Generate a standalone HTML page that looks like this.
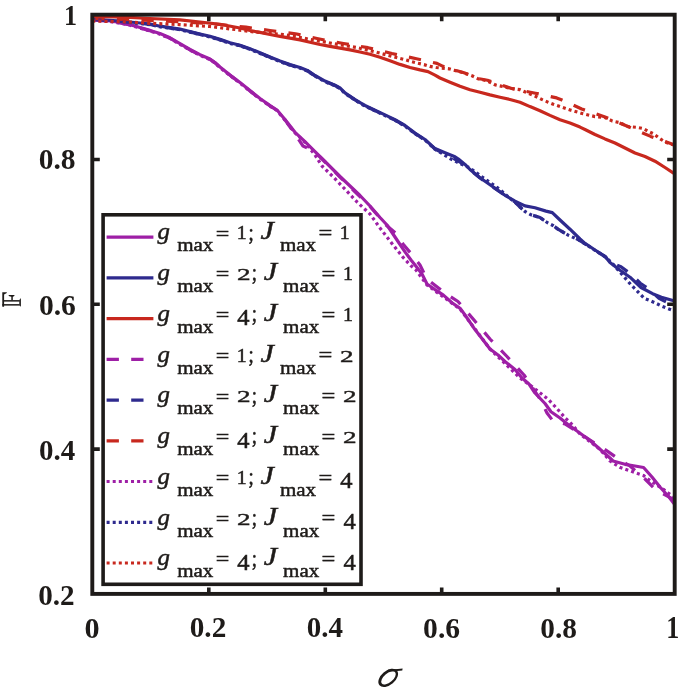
<!DOCTYPE html><html><head><meta charset="utf-8"><style>html,body{margin:0;padding:0;background:#fff}svg{display:block}</style></head><body><svg width="685" height="692" viewBox="0 0 685 692" style="will-change:transform;filter:blur(0.45px)">
<rect width="685" height="692" fill="#fff"/>
<path d="M92.3,19.5 L110.0,21.0 L120.0,22.5 L130.0,24.6 L140.0,27.5 L150.0,30.4 L160.0,33.6 L170.0,37.8 L180.0,43.7 L190.0,49.5 L200.0,54.7 L210.0,59.0 L215.0,62.5 L220.0,67.0 L230.0,74.9 L240.0,82.5 L250.0,90.5 L260.0,98.5 L270.0,105.5 L277.0,110.0 L285.0,119.5 L295.0,132.3 L305.0,141.7 L315.0,151.6 L325.0,161.5 L340.0,176.5 L360.0,195.5 L370.0,206.0 L380.0,217.5 L387.0,225.0 L393.0,234.0 L399.0,243.0 L405.0,251.9 L411.0,260.0 L417.0,267.5 L422.0,274.0 L427.0,284.0 L434.6,289.3 L443.4,295.1 L452.0,302.7 L460.4,308.6 L465.0,315.0 L475.0,329.6 L485.0,342.4 L490.0,349.0 L498.0,355.0 L505.0,361.4 L515.0,369.5 L522.0,378.0 L529.0,384.0 L535.0,393.0 L545.0,403.5 L551.0,411.7 L560.0,418.0 L568.0,424.5 L577.0,431.0 L590.0,440.5 L600.0,449.3 L610.0,458.0 L613.0,461.0 L625.0,464.3 L635.0,466.0 L643.6,467.5 L652.0,477.0 L660.0,487.0 L669.0,497.0 L674.7,504.5" fill="none" stroke="#9e1fa6" stroke-width="3.20" stroke-linejoin="round"/>
<path d="M92.3,19.0 L120.0,21.0 L150.0,24.0 L160.0,26.2 L180.0,29.1 L200.0,34.0 L210.0,36.4 L220.0,39.3 L230.0,42.8 L240.0,45.2 L250.0,48.7 L260.0,52.8 L270.0,56.9 L280.0,61.0 L290.0,64.6 L300.0,67.5 L307.4,70.4 L315.0,75.5 L325.0,81.1 L335.0,85.2 L340.0,88.0 L345.0,92.8 L355.0,99.5 L361.0,103.2 L365.0,105.5 L375.0,110.2 L385.0,114.9 L395.0,119.7 L405.0,125.5 L415.0,133.1 L425.0,139.5 L435.0,148.6 L445.0,152.7 L455.0,156.8 L458.4,159.1 L465.0,164.4 L470.0,169.5 L480.0,177.7 L490.0,184.7 L500.0,191.7 L505.0,195.3 L515.0,201.2 L525.0,205.9 L535.0,207.8 L546.0,211.1 L552.3,212.6 L560.0,220.0 L570.0,229.2 L580.0,239.0 L585.0,243.4 L595.0,250.0 L605.0,256.3 L610.0,262.6 L620.0,270.2 L630.0,277.2 L641.0,287.5 L652.6,293.7 L661.4,297.2 L674.7,301.0" fill="none" stroke="#2e2a8e" stroke-width="3.20" stroke-linejoin="round"/>
<path d="M92.3,16.3 L125.0,17.2 L150.0,18.5 L180.0,19.8 L200.0,22.0 L220.0,24.3 L240.0,28.0 L250.0,30.5 L260.0,32.4 L270.0,34.5 L280.0,36.4 L290.0,38.1 L300.0,39.9 L310.0,42.2 L320.0,44.5 L330.0,46.4 L340.0,48.1 L350.0,49.9 L360.0,52.0 L370.0,54.3 L380.0,57.2 L390.0,60.7 L400.0,64.4 L410.0,67.5 L420.0,69.9 L428.0,71.6 L435.0,75.1 L440.0,78.0 L450.0,82.2 L460.0,86.3 L470.0,89.8 L480.0,92.3 L490.0,94.9 L500.0,97.2 L510.0,99.5 L520.0,102.2 L530.0,106.6 L540.0,110.7 L550.0,115.4 L560.0,119.8 L570.0,123.0 L580.0,127.1 L586.0,130.0 L595.0,134.5 L605.0,138.9 L615.0,143.0 L635.0,153.0 L645.0,156.5 L655.0,161.2 L665.0,167.5 L674.7,173.8" fill="none" stroke="#c8281e" stroke-width="3.20" stroke-linejoin="round"/>
<path d="M92.3,19.9 L110.0,21.4 L120.0,22.9 L130.0,25.0 L140.0,27.9 L150.0,30.8 L160.0,34.0 L170.0,38.2 L180.0,44.1 L190.0,49.9 L200.0,55.1 L210.0,59.4 L215.0,62.9 L220.0,67.4 L230.0,75.3 L240.0,82.9 L250.0,90.9 L260.0,98.9 L270.0,105.9 L277.0,110.4 L285.0,119.9 L295.0,134.0 L303.0,146.0 L310.0,149.0 L320.0,157.0 L340.0,177.0 L370.0,206.5 L386.0,225.0 L396.0,233.5 L403.0,244.0 L411.0,253.5 L420.0,265.0 L427.0,279.0 L445.0,293.0 L458.0,301.5 L474.0,320.0 L490.0,339.0 L507.0,356.5 L524.0,375.0 L540.0,399.0 L547.0,413.0 L553.0,421.0 L565.0,424.0 L590.0,440.0 L608.0,451.6 L618.0,458.6 L630.0,466.0 L645.0,479.0 L656.0,490.0 L674.7,500.0" fill="none" stroke="#9e1fa6" stroke-width="3.20" stroke-linejoin="round" stroke-dasharray="12.3 12.3"/>
<path d="M92.3,19.4 L120.0,21.4 L150.0,24.4 L160.0,26.6 L180.0,29.5 L200.0,34.4 L210.0,36.8 L220.0,39.7 L230.0,43.2 L240.0,45.6 L250.0,49.1 L260.0,53.2 L270.0,57.3 L280.0,61.4 L290.0,65.0 L300.0,67.9 L307.4,70.8 L315.0,75.9 L325.0,81.5 L335.0,85.6 L340.0,88.4 L345.0,93.2 L355.0,99.9 L361.0,103.6 L365.0,105.9 L375.0,110.6 L385.0,115.3 L395.0,120.1 L405.0,125.9 L415.0,133.5 L425.0,139.9 L435.0,149.0 L450.0,156.5 L460.0,162.0 L470.0,170.0 L480.0,178.0 L490.0,185.0 L500.0,192.0 L510.0,198.5 L515.0,202.0 L520.0,207.0 L525.0,211.5 L531.0,214.8 L540.0,217.5 L547.6,222.8 L553.4,225.7 L558.0,229.2 L569.0,235.6 L578.0,239.5 L585.0,243.8 L595.0,250.3 L605.0,256.6 L612.0,263.0 L621.0,266.7 L631.0,274.3 L640.3,283.2 L649.7,289.6 L659.0,298.4 L669.5,303.6 L674.7,305.0" fill="none" stroke="#2e2a8e" stroke-width="3.20" stroke-linejoin="round" stroke-dasharray="12.3 12.3"/>
<path d="M92.3,18.5 L125.0,19.5 L150.0,20.5 L185.0,22.0 L215.0,24.0 L246.0,27.2 L270.0,30.5 L295.5,33.8 L317.0,38.5 L322.0,39.5 L343.5,43.5 L368.0,47.7 L392.0,53.5 L416.5,58.8 L437.0,63.4 L443.0,66.4 L464.0,72.8 L478.0,78.5 L487.5,80.3 L511.5,88.5 L535.5,93.2 L556.7,97.9 L562.0,100.0 L581.7,109.0 L605.0,117.0 L628.0,126.6 L650.7,136.4 L674.7,145.0" fill="none" stroke="#c8281e" stroke-width="3.20" stroke-linejoin="round" stroke-dasharray="12.3 12.3"/>
<path d="M92.3,20.1 L110.0,21.6 L120.0,23.1 L130.0,25.2 L140.0,28.1 L150.0,31.0 L160.0,34.2 L170.0,38.4 L180.0,44.3 L190.0,50.1 L200.0,55.3 L210.0,59.6 L215.0,63.1 L220.0,67.6 L230.0,75.5 L240.0,83.1 L250.0,91.1 L260.0,99.1 L270.0,106.1 L277.0,110.6 L285.0,120.1 L295.0,132.9 L305.0,142.3 L315.0,155.0 L322.0,166.0 L334.0,177.7 L347.0,191.3 L357.5,202.4 L370.0,214.0 L380.0,228.0 L391.5,242.9 L402.9,257.2 L411.0,265.8 L416.0,270.0 L427.0,285.0 L460.0,309.0 L490.0,349.0 L520.0,378.0 L529.0,384.3 L539.0,392.0 L548.4,399.5 L557.0,408.6 L565.0,417.8 L570.0,422.2 L580.0,434.0 L600.0,449.3 L610.0,461.0 L619.7,467.2 L631.4,471.3 L643.3,475.4 L651.0,481.2 L663.4,489.3 L668.6,493.4 L674.7,497.5" fill="none" stroke="#9e1fa6" stroke-width="3.20" stroke-linejoin="round" stroke-dasharray="3 3.1"/>
<path d="M92.3,19.6 L120.0,21.6 L150.0,24.6 L160.0,26.8 L180.0,29.7 L200.0,34.6 L210.0,37.0 L220.0,39.9 L230.0,43.4 L240.0,45.8 L250.0,49.3 L260.0,53.4 L270.0,57.5 L280.0,61.6 L290.0,65.2 L300.0,68.1 L307.4,71.0 L315.0,76.1 L325.0,81.7 L335.0,85.8 L340.0,88.6 L345.0,93.4 L355.0,100.1 L361.0,103.8 L365.0,106.1 L375.0,110.8 L385.0,115.5 L395.0,120.3 L405.0,126.1 L415.0,133.7 L425.0,140.1 L435.0,149.2 L450.0,158.5 L460.0,163.5 L470.0,168.0 L480.0,175.5 L490.0,182.5 L500.0,189.5 L510.0,198.5 L515.0,202.0 L520.0,207.0 L525.0,211.5 L531.0,214.8 L540.0,217.5 L547.6,222.8 L553.4,225.7 L558.0,229.2 L569.0,235.6 L578.0,239.5 L585.0,243.8 L595.0,250.3 L605.0,256.6 L612.0,263.0 L622.8,275.4 L627.0,280.1 L631.0,284.8 L635.7,289.5 L640.0,294.0 L644.4,298.4 L650.3,300.7 L655.5,303.0 L661.4,306.0 L667.2,308.3 L674.7,311.0" fill="none" stroke="#2e2a8e" stroke-width="3.20" stroke-linejoin="round" stroke-dasharray="3 3.1"/>
<path d="M92.3,21.0 L125.0,21.8 L150.0,23.3 L180.0,24.6 L210.0,26.5 L235.0,29.5 L255.0,32.0 L284.0,34.6 L303.4,38.1 L309.2,39.3 L327.0,42.3 L333.4,43.7 L351.5,46.6 L358.0,47.8 L376.4,52.2 L381.9,53.7 L398.5,58.1 L405.8,59.9 L411.7,61.7 L417.5,63.1 L424.0,64.6 L429.8,66.4 L436.2,67.5 L449.0,68.8 L454.0,70.2 L464.0,72.8 L472.0,75.8 L478.0,78.7 L487.5,81.0 L495.2,84.9 L501.0,86.1 L511.5,88.5 L520.0,89.7 L525.3,92.0 L536.4,96.7 L542.2,99.6 L547.4,101.9 L553.3,104.3 L558.5,106.0 L571.0,110.2 L583.0,113.7 L595.0,116.6 L605.0,117.5 L612.5,121.1 L619.0,122.5 L628.0,126.6 L636.8,127.3 L643.2,128.5 L648.4,131.4 L654.3,134.3 L659.5,138.4 L664.2,141.4 L669.5,143.7 L674.7,145.3" fill="none" stroke="#c8281e" stroke-width="3.20" stroke-linejoin="round" stroke-dasharray="3 3.1"/>
<rect x="92.3" y="14.7" width="582.4" height="579.2" fill="none" stroke="#1e1b19" stroke-width="3.9"/>
<path d="M92.3,449.1H99.8M674.7,449.1H667.2M92.3,304.3H99.8M674.7,304.3H667.2M92.3,159.5H99.8M674.7,159.5H667.2M208.8,593.9V587.4M208.8,14.7V21.2M325.3,593.9V587.4M325.3,14.7V21.2M441.7,593.9V587.4M441.7,14.7V21.2M558.2,593.9V587.4M558.2,14.7V21.2" stroke="#1e1b19" stroke-width="3.6" fill="none"/>
<g font-family="Liberation Serif" fill="#1e1b19"><text transform="matrix(0.26075 0 0 0.29236 63.96 25.05)" font-size="100" font-weight="bold">1</text><text transform="matrix(0.29524 0 0 0.29594 38.63 169.43)" font-size="100" font-weight="bold">0.8</text><text transform="matrix(0.29595 0 0 0.29594 38.92 315.23)" font-size="100" font-weight="bold">0.6</text><text transform="matrix(0.28994 0 0 0.29594 38.95 460.23)" font-size="100" font-weight="bold">0.4</text><text transform="matrix(0.29172 0 0 0.28858 38.14 605.44)" font-size="100" font-weight="bold">0.2</text><text transform="matrix(0.30201 0 0 0.29935 84.50 638.16)" font-size="100" font-weight="bold">0</text><text transform="matrix(0.29257 0 0 0.29299 189.74 637.44)" font-size="100" font-weight="bold">0.2</text><text transform="matrix(0.28994 0 0 0.29005 306.75 637.44)" font-size="100" font-weight="bold">0.4</text><text transform="matrix(0.29595 0 0 0.29594 423.12 637.83)" font-size="100" font-weight="bold">0.6</text><text transform="matrix(0.29354 0 0 0.29594 540.23 637.83)" font-size="100" font-weight="bold">0.8</text><text transform="matrix(0.26075 0 0 0.30599 666.16 638.45)" font-size="100" font-weight="bold">1</text></g>
<g transform="translate(388.2 677.9) rotate(-40)"><path fill-rule="evenodd" fill="#1e1b19" d="M-11.4,0 A11.4,7.1 0 1,0 11.4,0 A11.4,7.1 0 1,0 -11.4,0 Z M-8.5,0.2 A8.7,4.5 0 1,0 8.9,0.2 A8.7,4.5 0 1,0 -8.5,0.2 Z"/></g><path d="M388,669.6 L398,669.0 L402.6,668.4 L402.3,670.4 L397,670.9 L389,671.6 Z" fill="#1e1b19"/>
<g fill="#1e1b19">
<path d="M2.3,292.2H6.8V293L4.1,294.4V306.8H2.3Z"/>
<rect x="4" y="300.1" width="15.7" height="1.5"/>
<rect x="2.3" y="304.1" width="17.4" height="1.5"/>
<path d="M19.3,300L20.9,298.1V306.8L19.3,305.3Z"/>
<rect x="11.3" y="295.8" width="1.5" height="4.5"/>
<path d="M8.3,295H14.7Q14.2,296.6 12.8,296.8H11.3Q8.8,296.6 8.3,295Z"/>
</g>
<rect x="103.1" y="214.8" width="257.9" height="369.5" fill="#fff" stroke="#1e1b19" stroke-width="3.6"/>
<path d="M106.6,237.1H153.4" stroke="#9e1fa6" stroke-width="3.20"/>
<g font-family="Liberation Serif" fill="#1e1b19" stroke="#1e1b19"><text transform="matrix(0.24882 0 0 0.23845 157.49 239.42)" font-size="100" font-style="italic" stroke-width="2.05">g</text><text transform="matrix(0.21025 0 0 0.19129 177.16 251.41)" font-size="100" stroke-width="2.49">max</text><text transform="matrix(0.24069 0 0 0.19600 215.70 239.56)" font-size="100" stroke-width="2.29">=</text><text transform="matrix(0.19883 0 0 0.18026 236.85 239.40)" font-size="100" stroke-width="2.64">1</text><text transform="matrix(0.18740 0 0 0.22470 248.53 239.74)" font-size="100" stroke-width="2.43">;</text><text transform="matrix(0.30143 0 0 0.25280 260.54 239.45)" font-size="100" font-style="italic" stroke-width="1.80">J</text><text transform="matrix(0.21025 0 0 0.19129 279.96 251.41)" font-size="100" stroke-width="2.49">max</text><text transform="matrix(0.24499 0 0 0.21200 318.48 240.19)" font-size="100" stroke-width="2.19">=</text><text transform="matrix(0.19883 0 0 0.18026 339.85 239.40)" font-size="100" stroke-width="2.64">1</text></g>
<path d="M106.6,277.8H153.4" stroke="#2e2a8e" stroke-width="3.20"/>
<g font-family="Liberation Serif" fill="#1e1b19" stroke="#1e1b19"><text transform="matrix(0.24882 0 0 0.23845 157.49 280.16)" font-size="100" font-style="italic" stroke-width="2.05">g</text><text transform="matrix(0.21025 0 0 0.19129 177.16 292.15)" font-size="100" stroke-width="2.49">max</text><text transform="matrix(0.24069 0 0 0.19600 215.70 280.30)" font-size="100" stroke-width="2.29">=</text><text transform="matrix(0.27190 0 0 0.17520 236.91 280.14)" font-size="100" stroke-width="2.24">2</text><text transform="matrix(0.18740 0 0 0.22470 251.63 280.48)" font-size="100" stroke-width="2.43">;</text><text transform="matrix(0.30143 0 0 0.25280 263.64 280.19)" font-size="100" font-style="italic" stroke-width="1.80">J</text><text transform="matrix(0.21025 0 0 0.19129 283.06 292.15)" font-size="100" stroke-width="2.49">max</text><text transform="matrix(0.24499 0 0 0.21200 321.58 280.93)" font-size="100" stroke-width="2.19">=</text><text transform="matrix(0.19883 0 0 0.18026 342.95 280.14)" font-size="100" stroke-width="2.64">1</text></g>
<path d="M106.6,318.6H153.4" stroke="#c8281e" stroke-width="3.20"/>
<g font-family="Liberation Serif" fill="#1e1b19" stroke="#1e1b19"><text transform="matrix(0.24882 0 0 0.23845 157.49 320.90)" font-size="100" font-style="italic" stroke-width="2.05">g</text><text transform="matrix(0.21025 0 0 0.19129 177.16 332.89)" font-size="100" stroke-width="2.49">max</text><text transform="matrix(0.24069 0 0 0.19600 215.70 321.04)" font-size="100" stroke-width="2.29">=</text><text transform="matrix(0.24524 0 0 0.22485 237.32 325.48)" font-size="100" stroke-width="2.13">4</text><text transform="matrix(0.18740 0 0 0.22470 251.63 321.22)" font-size="100" stroke-width="2.43">;</text><text transform="matrix(0.30143 0 0 0.25280 263.64 320.93)" font-size="100" font-style="italic" stroke-width="1.80">J</text><text transform="matrix(0.21025 0 0 0.19129 283.06 332.89)" font-size="100" stroke-width="2.49">max</text><text transform="matrix(0.24499 0 0 0.21200 321.58 321.67)" font-size="100" stroke-width="2.19">=</text><text transform="matrix(0.19883 0 0 0.18026 342.95 320.88)" font-size="100" stroke-width="2.64">1</text></g>
<path d="M106.6,359.3H153.4" stroke="#9e1fa6" stroke-width="3.20" stroke-dasharray="12.3 12.3"/>
<g font-family="Liberation Serif" fill="#1e1b19" stroke="#1e1b19"><text transform="matrix(0.24882 0 0 0.23845 157.49 361.64)" font-size="100" font-style="italic" stroke-width="2.05">g</text><text transform="matrix(0.21025 0 0 0.19129 177.16 373.63)" font-size="100" stroke-width="2.49">max</text><text transform="matrix(0.24069 0 0 0.19600 215.70 361.78)" font-size="100" stroke-width="2.29">=</text><text transform="matrix(0.19883 0 0 0.18026 236.85 361.62)" font-size="100" stroke-width="2.64">1</text><text transform="matrix(0.18740 0 0 0.22470 248.53 361.96)" font-size="100" stroke-width="2.43">;</text><text transform="matrix(0.30143 0 0 0.25280 260.54 361.67)" font-size="100" font-style="italic" stroke-width="1.80">J</text><text transform="matrix(0.21025 0 0 0.19129 279.96 373.63)" font-size="100" stroke-width="2.49">max</text><text transform="matrix(0.24499 0 0 0.21200 318.48 362.41)" font-size="100" stroke-width="2.19">=</text><text transform="matrix(0.27190 0 0 0.17520 339.91 361.62)" font-size="100" stroke-width="2.24">2</text></g>
<path d="M106.6,400.1H153.4" stroke="#2e2a8e" stroke-width="3.20" stroke-dasharray="12.3 12.3"/>
<g font-family="Liberation Serif" fill="#1e1b19" stroke="#1e1b19"><text transform="matrix(0.24882 0 0 0.23845 157.49 402.38)" font-size="100" font-style="italic" stroke-width="2.05">g</text><text transform="matrix(0.21025 0 0 0.19129 177.16 414.37)" font-size="100" stroke-width="2.49">max</text><text transform="matrix(0.24069 0 0 0.19600 215.70 402.52)" font-size="100" stroke-width="2.29">=</text><text transform="matrix(0.27190 0 0 0.17520 236.91 402.36)" font-size="100" stroke-width="2.24">2</text><text transform="matrix(0.18740 0 0 0.22470 251.63 402.70)" font-size="100" stroke-width="2.43">;</text><text transform="matrix(0.30143 0 0 0.25280 263.64 402.41)" font-size="100" font-style="italic" stroke-width="1.80">J</text><text transform="matrix(0.21025 0 0 0.19129 283.06 414.37)" font-size="100" stroke-width="2.49">max</text><text transform="matrix(0.24499 0 0 0.21200 321.58 403.15)" font-size="100" stroke-width="2.19">=</text><text transform="matrix(0.27190 0 0 0.17520 343.01 402.36)" font-size="100" stroke-width="2.24">2</text></g>
<path d="M106.6,440.8H153.4" stroke="#c8281e" stroke-width="3.20" stroke-dasharray="12.3 12.3"/>
<g font-family="Liberation Serif" fill="#1e1b19" stroke="#1e1b19"><text transform="matrix(0.24882 0 0 0.23845 157.49 443.12)" font-size="100" font-style="italic" stroke-width="2.05">g</text><text transform="matrix(0.21025 0 0 0.19129 177.16 455.11)" font-size="100" stroke-width="2.49">max</text><text transform="matrix(0.24069 0 0 0.19600 215.70 443.26)" font-size="100" stroke-width="2.29">=</text><text transform="matrix(0.24524 0 0 0.22485 237.32 447.70)" font-size="100" stroke-width="2.13">4</text><text transform="matrix(0.18740 0 0 0.22470 251.63 443.44)" font-size="100" stroke-width="2.43">;</text><text transform="matrix(0.30143 0 0 0.25280 263.64 443.15)" font-size="100" font-style="italic" stroke-width="1.80">J</text><text transform="matrix(0.21025 0 0 0.19129 283.06 455.11)" font-size="100" stroke-width="2.49">max</text><text transform="matrix(0.24499 0 0 0.21200 321.58 443.89)" font-size="100" stroke-width="2.19">=</text><text transform="matrix(0.27190 0 0 0.17520 343.01 443.10)" font-size="100" stroke-width="2.24">2</text></g>
<path d="M106.6,481.5H153.4" stroke="#9e1fa6" stroke-width="3.20" stroke-dasharray="3 3.1"/>
<g font-family="Liberation Serif" fill="#1e1b19" stroke="#1e1b19"><text transform="matrix(0.24882 0 0 0.23845 157.49 483.86)" font-size="100" font-style="italic" stroke-width="2.05">g</text><text transform="matrix(0.21025 0 0 0.19129 177.16 495.85)" font-size="100" stroke-width="2.49">max</text><text transform="matrix(0.24069 0 0 0.19600 215.70 484.00)" font-size="100" stroke-width="2.29">=</text><text transform="matrix(0.19883 0 0 0.18026 236.85 483.84)" font-size="100" stroke-width="2.64">1</text><text transform="matrix(0.18740 0 0 0.22470 248.53 484.18)" font-size="100" stroke-width="2.43">;</text><text transform="matrix(0.30143 0 0 0.25280 260.54 483.89)" font-size="100" font-style="italic" stroke-width="1.80">J</text><text transform="matrix(0.21025 0 0 0.19129 279.96 495.85)" font-size="100" stroke-width="2.49">max</text><text transform="matrix(0.24499 0 0 0.21200 318.48 484.63)" font-size="100" stroke-width="2.19">=</text><text transform="matrix(0.24524 0 0 0.22485 340.32 488.44)" font-size="100" stroke-width="2.13">4</text></g>
<path d="M106.6,522.3H153.4" stroke="#2e2a8e" stroke-width="3.20" stroke-dasharray="3 3.1"/>
<g font-family="Liberation Serif" fill="#1e1b19" stroke="#1e1b19"><text transform="matrix(0.24882 0 0 0.23845 157.49 524.60)" font-size="100" font-style="italic" stroke-width="2.05">g</text><text transform="matrix(0.21025 0 0 0.19129 177.16 536.59)" font-size="100" stroke-width="2.49">max</text><text transform="matrix(0.24069 0 0 0.19600 215.70 524.74)" font-size="100" stroke-width="2.29">=</text><text transform="matrix(0.27190 0 0 0.17520 236.91 524.58)" font-size="100" stroke-width="2.24">2</text><text transform="matrix(0.18740 0 0 0.22470 251.63 524.92)" font-size="100" stroke-width="2.43">;</text><text transform="matrix(0.30143 0 0 0.25280 263.64 524.63)" font-size="100" font-style="italic" stroke-width="1.80">J</text><text transform="matrix(0.21025 0 0 0.19129 283.06 536.59)" font-size="100" stroke-width="2.49">max</text><text transform="matrix(0.24499 0 0 0.21200 321.58 525.37)" font-size="100" stroke-width="2.19">=</text><text transform="matrix(0.24524 0 0 0.22485 343.42 529.18)" font-size="100" stroke-width="2.13">4</text></g>
<path d="M106.6,563.0H153.4" stroke="#c8281e" stroke-width="3.20" stroke-dasharray="3 3.1"/>
<g font-family="Liberation Serif" fill="#1e1b19" stroke="#1e1b19"><text transform="matrix(0.24882 0 0 0.23845 157.49 565.34)" font-size="100" font-style="italic" stroke-width="2.05">g</text><text transform="matrix(0.21025 0 0 0.19129 177.16 577.33)" font-size="100" stroke-width="2.49">max</text><text transform="matrix(0.24069 0 0 0.19600 215.70 565.48)" font-size="100" stroke-width="2.29">=</text><text transform="matrix(0.24524 0 0 0.22485 237.32 569.92)" font-size="100" stroke-width="2.13">4</text><text transform="matrix(0.18740 0 0 0.22470 251.63 565.66)" font-size="100" stroke-width="2.43">;</text><text transform="matrix(0.30143 0 0 0.25280 263.64 565.37)" font-size="100" font-style="italic" stroke-width="1.80">J</text><text transform="matrix(0.21025 0 0 0.19129 283.06 577.33)" font-size="100" stroke-width="2.49">max</text><text transform="matrix(0.24499 0 0 0.21200 321.58 566.11)" font-size="100" stroke-width="2.19">=</text><text transform="matrix(0.24524 0 0 0.22485 343.42 569.92)" font-size="100" stroke-width="2.13">4</text></g>
</svg></body></html>
